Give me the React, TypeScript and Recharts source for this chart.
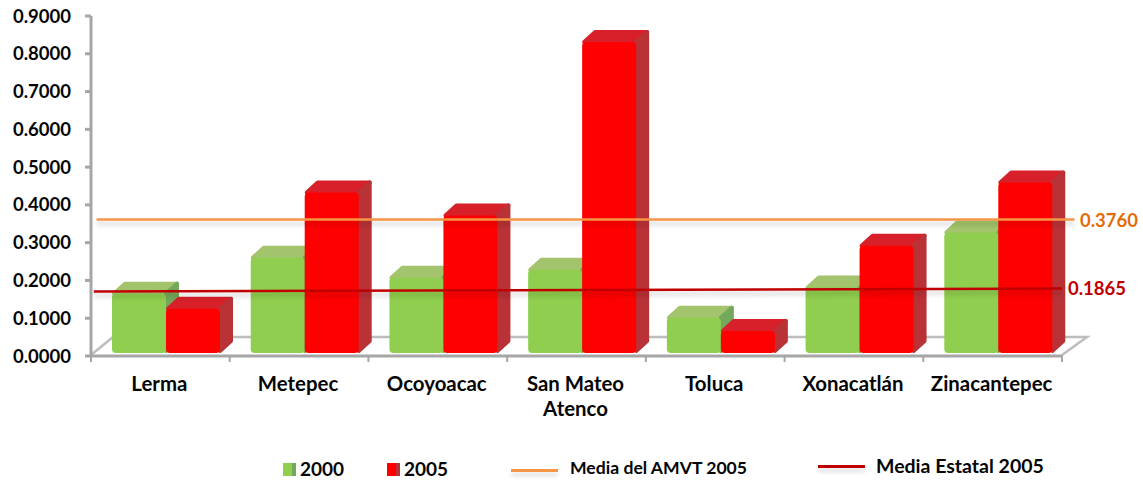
import { Bar, ComposedChart, Legend, ReferenceLine, XAxis, YAxis } from "recharts";

const categories = ["Lerma", "Metepec", "Ocoyoacac", "San Mateo Atenco", "Toluca", "Xonacatlán", "Zinacantepec"];
const values2000 = [0.165, 0.26, 0.207, 0.228, 0.101, 0.181, 0.327];
const values2005 = [0.125, 0.433, 0.372, 0.831, 0.066, 0.292, 0.459];
const yTicks = [0, 0.1, 0.2, 0.3, 0.4, 0.5, 0.6, 0.7, 0.8, 0.9];

// where the two mean lines sit on the drawn scale, the labels give the printed figure
const amvtLine = [0.361, 0.361];
const estatalLine = [0.1707, 0.1787];
const amvtLabel = "0.3760";
const estatalLabel = "0.1865";

const data = categories.map((name, i) => ({ name, slot: i + 0.5, y2000: values2000[i], y2005: values2005[i] }));

const FONT = "Lato, sans-serif";
const AXIS = "#a6a6a6";
const INK = "#050505";
const W = 1143;
const H = 480;
const LEFT = 91;
const RIGHT = 81;
const TOP = 16;
const BOTTOM = 125;
const LEGEND_H = 31;
const BAND = (W - LEFT - RIGHT) / categories.length;
const AXIS_Y = H - BOTTOM;

const green = { front: "#8fce4e", top: "#a3c46c", side: "#74a85a" };
const red = { front: "#fe0000", top: "#d8202a", side: "#b93236" };

function Bar3D(props: any) {
  const { x, y, width, height, colors } = props;
  const left = x + 6;
  const right = left + width;
  const bottom = y + height - 3;
  const dx = 13;
  const dy = 12;
  return (
    <g strokeLinejoin="round">
      <path
        d={`M${left + 2},${y} L${left + dx},${y - dy + 2} L${right + dx - 2},${y - dy + 2} L${right},${y} Z`}
        fill={colors.top}
        stroke={colors.top}
        strokeWidth={4}
      />
      <path
        d={`M${right},${y} L${right + dx - 2},${y - dy + 2} L${right + dx - 2},${bottom - dy} L${right},${bottom - 2} Z`}
        fill={colors.side}
        stroke={colors.side}
        strokeWidth={4}
      />
      <rect x={left} y={y} width={width} height={bottom - y} rx={4} fill={colors.front} />
    </g>
  );
}

function CategoryTick(props: any) {
  const { x, payload, index } = props;
  const words = payload.value === "San Mateo Atenco" ? ["San Mateo", "Atenco"] : [payload.value];
  return (
    <g>
      <line x1={x - BAND / 2} x2={x - BAND / 2} y1={AXIS_Y} y2={AXIS_Y + 7} stroke={AXIS} strokeWidth={2} />
      {index === categories.length - 1 && (
        <line x1={x + BAND / 2} x2={x + BAND / 2} y1={AXIS_Y} y2={AXIS_Y + 7} stroke={AXIS} strokeWidth={2} />
      )}
      {words.map((w, i) => (
        <text
          key={w}
          x={x - 1}
          y={AXIS_Y + 36 + i * 25}
          textAnchor="middle"
          fontFamily={FONT}
          fontWeight={700}
          fontSize={20.4}
          fill={INK}
        >
          {w}
        </text>
      ))}
    </g>
  );
}

function MeanLine(props: any) {
  const { x1, y1, x2, y2, color, textColor, text, textX } = props;
  return (
    <g>
      <line x1={x1} y1={y1 + 4} x2={x2} y2={y2 + 4} stroke="#000" strokeOpacity={0.1} strokeWidth={5} style={{ filter: "blur(2px)" }} />
      <line x1={x1} y1={y1} x2={x2} y2={y2} stroke={color} strokeWidth={2.5} />
      <text x={textX} y={y2 + 7} fontFamily={FONT} fontWeight={700} fontSize={18.5} fill={textColor}>
        {text}
      </text>
    </g>
  );
}

function Floor() {
  const backY = AXIS_Y - 18;
  return (
    <path
      d={`M${LEFT},${AXIS_Y} L${LEFT + 22},${backY} L${W - RIGHT + 25},${backY} L${W - RIGHT},${AXIS_Y}`}
      fill="none"
      stroke="#bdbdbd"
      strokeWidth={2.5}
    />
  );
}

function LegendBlock() {
  const text = { position: "absolute", top: -2, fontFamily: FONT, fontWeight: 700, fontSize: 17.6, color: INK, whiteSpace: "nowrap" } as const;
  const swatch = (left: number, c: string, c2: string) => (
    <div style={{ position: "absolute", left, top: 4, width: 13, height: 13, background: `linear-gradient(90deg, ${c} 70%, ${c2} 70%)` }} />
  );
  const line = (left: number, top: number, c: string) => (
    <div style={{ position: "absolute", left, top, width: 47, height: 3, background: c, boxShadow: "0 4px 4px rgba(0,0,0,0.15)" }} />
  );
  return (
    <div style={{ position: "relative", width: W, height: 30 }}>
      {swatch(283, green.front, green.side)}
      <span style={{ ...text, left: 300, fontSize: 19 }}>2000</span>
      {swatch(387, red.front, red.side)}
      <span style={{ ...text, left: 404, fontSize: 19 }}>2005</span>
      {line(511, 10, "#f79646")}
      <span style={{ ...text, left: 570 }}>Media del AMVT 2005</span>
      {line(818, 6, "#c00000")}
      <span style={{ ...text, left: 876, top: -5, fontSize: 19.5 }}>Media Estatal 2005</span>
    </div>
  );
}

export default function App() {
  return (
    <div style={{ position: "absolute", left: 0, top: 0, width: W, height: H, background: "#fff" }}>
      <ComposedChart
        width={W}
        height={H}
        data={data}
        barGap={0}
        barSize={54}
        margin={{ left: 0, right: RIGHT, top: TOP, bottom: BOTTOM - 60 - LEGEND_H }}
      >
        <Floor />
        <XAxis
          dataKey="name"
          interval={0}
          height={60}
          stroke={AXIS}
          strokeWidth={3}
          tickLine={false}
          tick={<CategoryTick />}
        />
        <XAxis xAxisId="num" dataKey="slot" type="number" domain={[0, 7]} allowDataOverflow hide />
        <YAxis
          width={LEFT}
          domain={[0, 0.9]}
          ticks={yTicks}
          interval={0}
          stroke={AXIS}
          strokeWidth={3}
          tickSize={6}
          tickMargin={14}
          tickFormatter={(v: number) => v.toFixed(4)}
          tick={{ fontFamily: FONT, fontWeight: 700, fontSize: 18.5, fill: INK }}
        />
        <Bar dataKey="y2000" isAnimationActive={false} shape={<Bar3D colors={green} />} />
        <Bar dataKey="y2005" isAnimationActive={false} shape={<Bar3D colors={red} />} />
        <ReferenceLine
          xAxisId="num"
          ifOverflow="visible"
          segment={[
            { x: 0.04, y: amvtLine[0] },
            { x: 7.09, y: amvtLine[1] },
          ]}
          shape={<MeanLine color="#f79646" textColor="#e36c09" text={amvtLabel} textX={1080} />}
        />
        <ReferenceLine
          xAxisId="num"
          ifOverflow="visible"
          segment={[
            { x: 0.02, y: estatalLine[0] },
            { x: 7, y: estatalLine[1] },
          ]}
          shape={<MeanLine color="#c00000" textColor="#c00000" text={estatalLabel} textX={1068} />}
        />
        <Legend
          content={<LegendBlock />}
          wrapperStyle={{ position: "absolute", left: 0, top: 459, width: W, margin: 0 }}
        />
      </ComposedChart>
    </div>
  );
}
